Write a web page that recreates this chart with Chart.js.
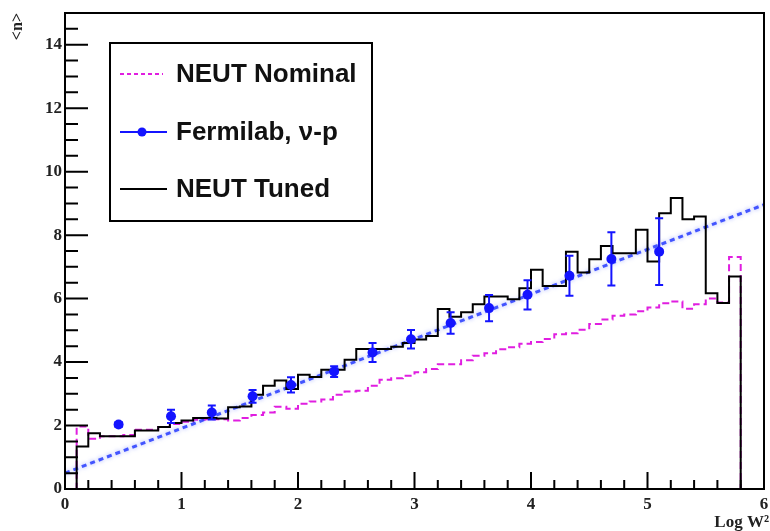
<!DOCTYPE html>
<html>
<head>
<meta charset="utf-8">
<script src="https://cdn.jsdelivr.net/npm/chart.js@4/dist/chart.umd.min.js"></script>
<style>
  html, body { margin: 0; padding: 0; background: #fff; }
  #wrap { width: 770px; height: 531px; }
</style>
</head>
<body>
<div id="wrap"><canvas id="c" width="770" height="531"></canvas></div>
<script>
// Histogram binning in log W^2
const BIN_EDGES = [0.0, 0.1, 0.2, 0.3, 0.4, 0.5, 0.6, 0.7, 0.8, 0.9,
                   1.0, 1.1, 1.2, 1.3, 1.4, 1.5, 1.6, 1.7, 1.8, 1.9,
                   2.0, 2.1, 2.2, 2.3, 2.4, 2.5, 2.6, 2.7, 2.8, 2.9,
                   3.0, 3.1, 3.2, 3.3, 3.4, 3.5, 3.6, 3.7, 3.8, 3.9,
                   4.0, 4.1, 4.2, 4.3, 4.4, 4.5, 4.6, 4.7, 4.8, 4.9,
                   5.0, 5.1, 5.2, 5.3, 5.4, 5.5, 5.6, 5.7, 5.8];

// Mean multiplicity per bin, NEUT default model
const NEUT_NOMINAL = [0, 1.97, 1.58, 1.66, 1.66, 1.70, 1.87, 1.87, 1.95, 2.05,
                      2.12, 2.18, 2.20, 2.20, 2.16, 2.24, 2.33, 2.41, 2.59, 2.53,
                      2.69, 2.76, 2.82, 2.97, 3.07, 3.10, 3.25, 3.44, 3.49, 3.57,
                      3.68, 3.78, 3.93, 3.93, 4.06, 4.20, 4.28, 4.40, 4.47, 4.58,
                      4.63, 4.73, 4.88, 4.91, 5.02, 5.20, 5.34, 5.46, 5.50, 5.60,
                      5.72, 5.85, 5.91, 5.68, 5.82, 6.00, 5.88, 7.31];

// Mean multiplicity per bin, NEUT after tuning
const NEUT_TUNED = [0, 1.34, 1.76, 1.66, 1.66, 1.66, 1.84, 1.84, 1.95, 2.08,
                    2.16, 2.24, 2.24, 2.22, 2.58, 2.60, 2.97, 3.25, 3.42, 3.15,
                    3.60, 3.53, 3.76, 3.76, 4.07, 4.41, 4.41, 4.41, 4.48, 4.60,
                    4.71, 4.82, 5.67, 5.43, 5.57, 5.82, 6.07, 6.07, 5.98, 6.33,
                    6.91, 6.40, 6.40, 7.48, 6.82, 7.24, 7.66, 7.43, 7.43, 8.17,
                    7.17, 8.69, 9.17, 8.50, 8.59, 6.17, 5.86, 6.70];

// Fermilab nu-p measurements
const FERMI_X   = [0.46, 0.91, 1.26, 1.61, 1.94, 2.31, 2.64, 2.97, 3.31, 3.64, 3.97, 4.33, 4.69, 5.10];
const FERMI_Y   = [2.03, 2.29, 2.41, 2.92, 3.28, 3.70, 4.30, 4.72, 5.23, 5.70, 6.12, 6.72, 7.25, 7.48];
const FERMI_ERR = [0.08, 0.21, 0.22, 0.20, 0.24, 0.17, 0.30, 0.29, 0.34, 0.41, 0.46, 0.63, 0.84, 1.05];

// Linear fit to the Fermilab data (end points)
const FIT_X = [0.0, 6.0];
const FIT_Y = [0.50, 8.96];

const X_TICKS = [0, 1, 2, 3, 4, 5, 6];
const Y_TICKS = [0, 2, 4, 6, 8, 10, 12, 14];

const SERIES_LABELS = ['NEUT Nominal', 'Fermilab, \u03bd-p', 'NEUT Tuned'];
const X_TITLE = 'Log W\u00b2';
const Y_TITLE = '<n>';

const BLUE = '#1414ff';
const MAGENTA = '#e01ee0';

// step-histogram points: left edge of each bin, closed to zero at the last edge
function histPoints(values) {
  const pts = values.map((v, i) => ({ x: BIN_EDGES[i], y: v }));
  const last = BIN_EDGES[BIN_EDGES.length - 1];
  pts.push({ x: last, y: values[values.length - 1] });
  pts.push({ x: last, y: 0 });
  return pts;
}

const axisPlugin = {
  id: 'rootAxes',
  beforeDatasetDraw(chart, args) {
    if (chart.data.datasets[args.index].isFit) {
      const ctx = chart.ctx;
      ctx.save();
      ctx.shadowColor = 'rgba(90,110,255,0.7)';
      ctx.shadowBlur = 4;
    }
  },
  afterDatasetDraw(chart, args) {
    if (chart.data.datasets[args.index].isFit) chart.ctx.restore();
  },
  afterDatasetsDraw(chart) {
    const ctx = chart.ctx, xs = chart.scales.x, ys = chart.scales.y, a = chart.chartArea;
    ctx.save();

    // error bars on the measurements
    ctx.strokeStyle = BLUE;
    ctx.lineWidth = 2;
    FERMI_X.forEach((xv, i) => {
      const px = xs.getPixelForValue(xv);
      const top = ys.getPixelForValue(FERMI_Y[i] + FERMI_ERR[i]);
      const bot = ys.getPixelForValue(FERMI_Y[i] - FERMI_ERR[i]);
      ctx.beginPath();
      ctx.moveTo(px, top); ctx.lineTo(px, bot);
      ctx.moveTo(px - 4, top); ctx.lineTo(px + 4, top);
      ctx.moveTo(px - 4, bot); ctx.lineTo(px + 4, bot);
      ctx.stroke();
    });

    // frame
    ctx.strokeStyle = '#000';
    ctx.lineWidth = 2;
    ctx.strokeRect(a.left, a.top, a.right - a.left, a.bottom - a.top);

    // inward tick marks
    ctx.beginPath();
    for (let k = 0; k <= 30; k++) {
      const v = k * 0.2;
      const px = xs.getPixelForValue(v);
      const len = (k % 5 === 0) ? 17 : 9;
      ctx.moveTo(px, a.bottom); ctx.lineTo(px, a.bottom - len);
    }
    for (let k = 0; k <= 30; k++) {
      const v = k * 0.5;
      const py = ys.getPixelForValue(v);
      const len = (k % 4 === 0) ? 23 : 13;
      ctx.moveTo(a.left, py); ctx.lineTo(a.left + len, py);
    }
    ctx.stroke();

    // axis titles
    ctx.fillStyle = '#222';
    ctx.font = 'bold 17px "Liberation Serif", serif';
    ctx.textAlign = 'right';
    ctx.textBaseline = 'alphabetic';
    ctx.fillText(X_TITLE, 769, 527);

    ctx.save();
    ctx.translate(18, 13);
    ctx.rotate(-Math.PI / 2);
    ctx.font = 'bold 16px "Liberation Serif", serif';
    ctx.textAlign = 'right';
    ctx.textBaseline = 'middle';
    ctx.fillText(Y_TITLE, 0, 0);
    ctx.restore();

    // legend box
    const bx = 110, by = 43, bw = 262, bh = 178;
    ctx.fillStyle = '#fff';
    ctx.fillRect(bx, by, bw, bh);
    ctx.strokeStyle = '#000';
    ctx.lineWidth = 2;
    ctx.strokeRect(bx, by, bw, bh);

    const rows = [74, 132, 189];
    ctx.font = 'bold 26px "Liberation Sans", Arial, sans-serif';
    ctx.textAlign = 'left';
    ctx.textBaseline = 'middle';

    // nominal
    ctx.strokeStyle = MAGENTA; ctx.lineWidth = 2; ctx.setLineDash([4, 3]);
    ctx.beginPath(); ctx.moveTo(120, rows[0]); ctx.lineTo(163, rows[0]); ctx.stroke();
    ctx.setLineDash([]);
    // measurement
    ctx.strokeStyle = BLUE; ctx.fillStyle = BLUE;
    ctx.beginPath(); ctx.moveTo(120, rows[1]); ctx.lineTo(167, rows[1]); ctx.stroke();
    ctx.beginPath(); ctx.arc(142, rows[1], 4.5, 0, Math.PI * 2); ctx.fill();
    // tuned
    ctx.strokeStyle = '#000';
    ctx.beginPath(); ctx.moveTo(120, rows[2]); ctx.lineTo(167, rows[2]); ctx.stroke();

    ctx.fillStyle = '#111';
    SERIES_LABELS.forEach((t, i) => ctx.fillText(t, 176, rows[i] + 1));

    ctx.restore();
  }
};

new Chart(document.getElementById('c'), {
  type: 'line',
  data: {
    datasets: [
      {
        label: SERIES_LABELS[1],
        data: FERMI_X.map((x, i) => ({ x: x, y: FERMI_Y[i] })),
        showLine: false,
        pointRadius: 5,
        pointBackgroundColor: BLUE,
        pointBorderColor: BLUE,
        pointBorderWidth: 0,
        order: 0
      },
      {
        label: SERIES_LABELS[2],
        data: histPoints(NEUT_TUNED),
        stepped: 'before',
        borderColor: '#000',
        borderWidth: 2,
        pointRadius: 0,
        fill: false,
        order: 1
      },
      {
        label: 'fit',
        isFit: true,
        data: FIT_X.map((x, i) => ({ x: x, y: FIT_Y[i] })),
        borderColor: 'rgba(40,60,255,0.85)',
        borderWidth: 3,
        borderDash: [5, 4],
        pointRadius: 0,
        fill: false,
        order: 2
      },
      {
        label: SERIES_LABELS[0],
        data: histPoints(NEUT_NOMINAL),
        stepped: 'before',
        borderColor: MAGENTA,
        borderWidth: 2,
        borderDash: [7, 4],
        pointRadius: 0,
        fill: false,
        order: 3
      }
    ]
  },
  options: {
    responsive: false,
    animation: false,
    events: [],
    layout: { padding: { left: 0, top: 13, right: 6, bottom: 0 } },
    plugins: { legend: { display: false }, tooltip: { enabled: false } },
    scales: {
      x: {
        type: 'linear',
        min: 0, max: 6,
        grid: { display: false, drawTicks: false },
        border: { display: false },
        afterBuildTicks(s) { s.ticks = X_TICKS.map(v => ({ value: v })); },
        afterFit(s) { s.height = 42; s.paddingLeft = 0; s.paddingRight = 0; },
        ticks: {
          color: '#222',
          font: { family: '"Liberation Serif", serif', size: 17, weight: 'bold' },
          padding: 5,
          maxRotation: 0,
          autoSkip: false
        }
      },
      y: {
        type: 'linear',
        min: 0, max: 15,
        grid: { display: false, drawTicks: false },
        border: { display: false },
        afterBuildTicks(s) { s.ticks = Y_TICKS.map(v => ({ value: v })); },
        afterFit(s) { s.width = 65; s.paddingTop = 0; s.paddingBottom = 0; },
        ticks: {
          color: '#222',
          font: { family: '"Liberation Serif", serif', size: 17, weight: 'bold' },
          padding: 3,
          autoSkip: false
        }
      }
    }
  },
  plugins: [axisPlugin]
});
</script>
</body>
</html>
